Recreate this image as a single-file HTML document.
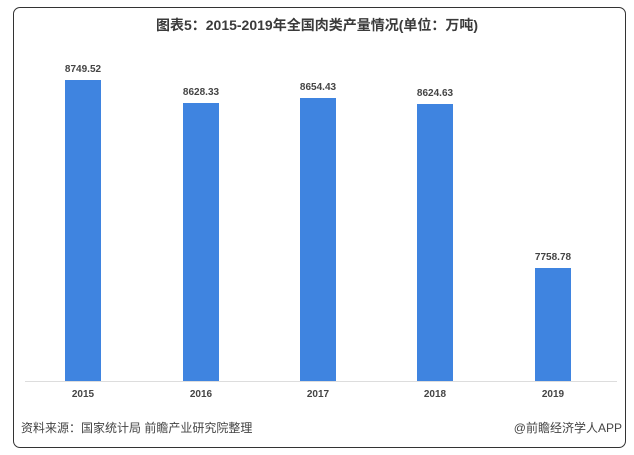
<!DOCTYPE html>
<html><head><meta charset="utf-8"><style>
body{margin:0;width:634px;height:455px;background:#fff;overflow:hidden;font-family:"Liberation Sans","Noto Sans CJK SC",sans-serif}
.box{position:absolute;left:13px;top:7px;width:611px;height:439px;border:1px solid #333;border-radius:7px}
.t{position:absolute;left:0;width:634px;top:15px;text-align:center;font-size:14px;font-weight:bold;color:#3a3a3a}
.bar{position:absolute;width:36px;background:#3f84e0;bottom:74px}
.v{position:absolute;width:80px;text-align:center;font-size:10px;font-weight:bold;color:#444}
.y{position:absolute;top:389px;width:80px;text-align:center;font-size:10px;font-weight:bold;color:#444}
.base{position:absolute;left:25px;width:592px;top:381px;height:1px;background:#ddd}
.s{position:absolute;top:419px;font-size:12px;color:#444}
</style></head><body>
<div class="box"></div>
<div class="t">图表5：2015-2019年全国肉类产量情况(单位：万吨)</div>
<div class="base"></div>
<div class="bar" style="left:65px;top:80px"></div><div class="v" style="left:43px;top:64px">8749.52</div><div class="y" style="left:43px">2015</div>
<div class="bar" style="left:183px;top:103px"></div><div class="v" style="left:161px;top:87px">8628.33</div><div class="y" style="left:161px">2016</div>
<div class="bar" style="left:300px;top:98px"></div><div class="v" style="left:278px;top:82px">8654.43</div><div class="y" style="left:278px">2017</div>
<div class="bar" style="left:417px;top:104px"></div><div class="v" style="left:395px;top:88px">8624.63</div><div class="y" style="left:395px">2018</div>
<div class="bar" style="left:535px;top:268px"></div><div class="v" style="left:513px;top:252px">7758.78</div><div class="y" style="left:513px">2019</div>
<div class="s" style="left:21px">资料来源：国家统计局 前瞻产业研究院整理</div>
<div class="s" style="right:12px">@前瞻经济学人APP</div>
</body></html>
